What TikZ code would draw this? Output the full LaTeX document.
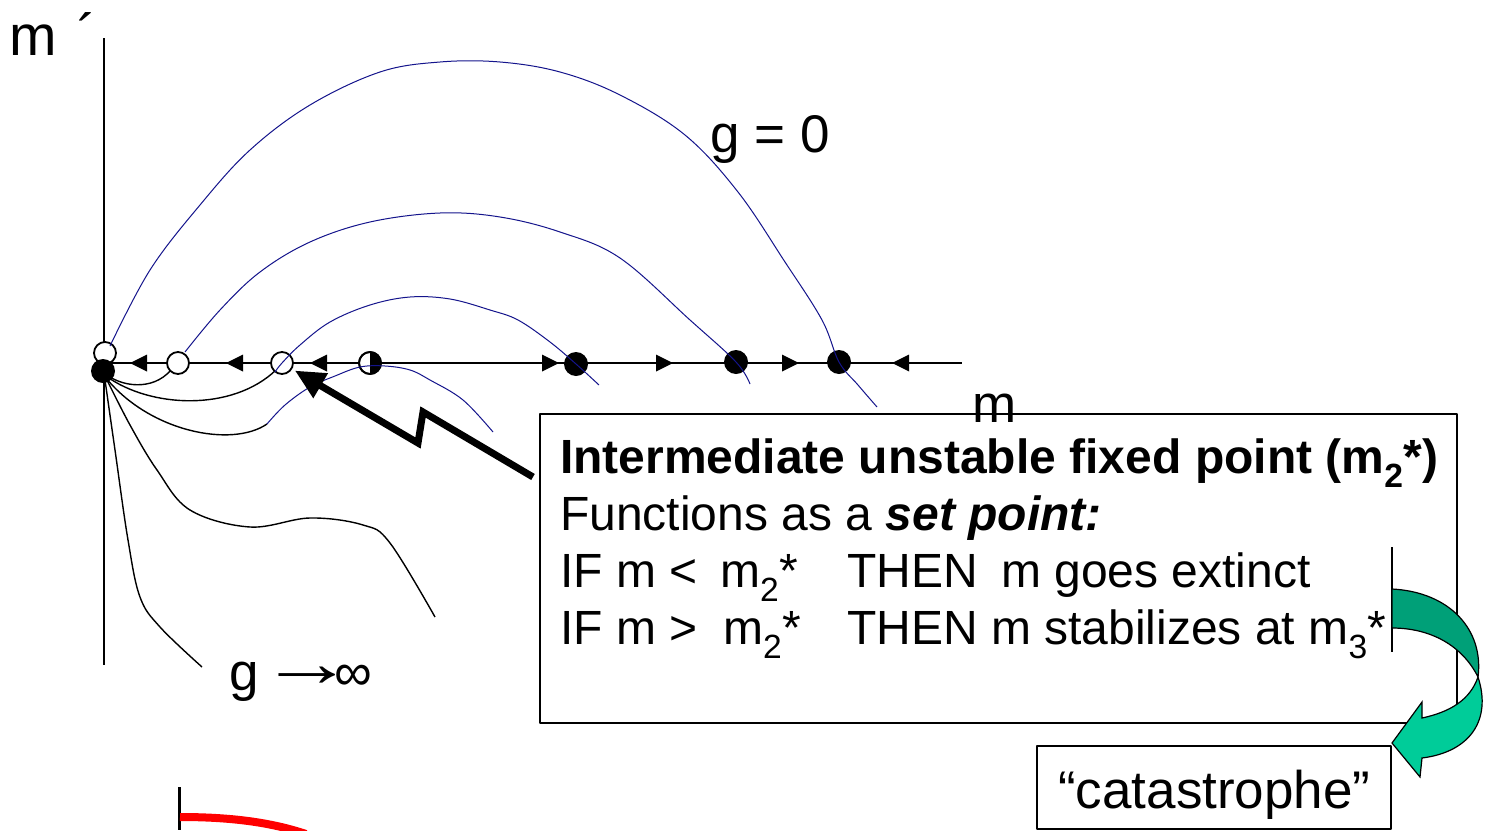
\documentclass[tikz,border=0pt]{standalone}
\usepackage{fontspec}
\usepackage{graphicx}
\setmainfont{Liberation Sans}
\usetikzlibrary{arrows.meta}
\definecolor{curveblue}{RGB}{20,20,140}
\definecolor{darkgreen}{RGB}{0,160,120}
\definecolor{lightgreen}{RGB}{0,204,153}
\newcommand\trileft[1]{\fill (#1,363) -- ++(17,-8.5) -- ++(0,17) -- cycle;}
\newcommand\triright[1]{\fill (#1,363) -- ++(-17,-8.5) -- ++(0,17) -- cycle;}
\begin{document}
\begin{tikzpicture}[x=1pt,y=-1pt,line join=round]
\tikzset{
 axisline/.style={line width=1.8pt},
 flowcurve/.style={line width=1.4pt},
 bluecurve/.style={line width=1pt, draw=curveblue},
 openpt/.style={circle, draw, line width=1.8pt, fill=white, minimum size=22pt, inner sep=0},
 fullpt/.style={circle, fill=black, minimum size=24pt, inner sep=0},
 lbl/.style={font=\fontsize{53}{60}\selectfont, inner sep=0, anchor=base west},
 boxtxt/.style={font=\fontsize{48}{57}\selectfont, inner sep=0, anchor=base west},
 framebox/.style={draw, line width=1.5pt, rectangle, inner sep=0, anchor=north west},
}
\useasboundingbox[fill=white] (0,0) rectangle (1491,830);

% axes
\coordinate (ytop) at (104,38);
\coordinate (ybot) at (104,665);
\coordinate (orig) at (104,363);
\coordinate (xend) at (962,363);
\draw[axisline] (ytop) -- (ybot);
\draw[axisline] (orig) -- (xend);

% labels
\node[lbl, font=\fontsize{57}{60}\selectfont] (mprime) at (9,55) {m\hspace{21pt}\raisebox{1pt}{´}};
\node[lbl] (gzero) at (710,152) {g = 0};
\node[lbl] (mlab) at (972,422) {m};
\node[lbl] (ginf) at (229,690) {g\hspace{1pt}\raisebox{4pt}{\scalebox{1.8}[1.3]{→}}\hspace{-21pt}∞};

% black flow curves from the stable origin
\draw[flowcurve] (106,374) .. controls (120,386) and (152,392) .. (171,370);
\draw[flowcurve] (106,376) .. controls (150,408) and (232,412) .. (276,370);
\draw[flowcurve] (106,378) .. controls (150,432) and (232,448) .. (267,424);
\draw[flowcurve] plot[smooth, tension=0.6] coordinates {(106,378) (130,425) (157,470) (190,510) (250,527) (310,518) (363,525) (390,543) (435,617)};
\draw[flowcurve] plot[smooth, tension=0.6] coordinates {(105,380) (115,450) (128,540) (140,597) (160,627) (202,667)};

% fixed points
\node[openpt] (m0open) at (105,353) {};
\node[fullpt] (m0) at (103,371) {};
\node[openpt] (m1) at (178,363) {};
\node[openpt] (m2) at (282,363) {};
\node[openpt] (mh) at (370,363) {};
\fill (370,352) arc[start angle=-90, end angle=90, radius=11] -- cycle;
\draw[line width=1.8pt] (mh.center) circle[radius=11];
\node[fullpt] (s1) at (576,364) {};
\node[fullpt] (s2) at (736,362) {};
\node[fullpt] (s3) at (839,362) {};

% axis arrowheads
\trileft{130}
\trileft{226}
\trileft{310}
\trileft{892}
\triright{559}
\triright{673}
\triright{799}

% blue curves
\draw[bluecurve] plot[smooth, tension=0.6] coordinates {(110,346) (150,270) (200,205) (250,150) (310,105) (380,72) (440,62) (500,62) (560,72) (620,95) (685,135) (738,192) (785,262) (822,320) (839,362) (858,385) (877,407)};
\draw[bluecurve] plot[smooth, tension=0.6] coordinates {(185,352) (220,310) (260,272) (310,242) (370,222) (440,213) (500,217) (560,232) (620,258) (690,320) (736,362) (750,384)};
\draw[bluecurve] plot[smooth, tension=0.6] coordinates {(275,372) (282,363) (300,345) (330,322) (370,305) (410,297) (450,299) (490,310) (518,320) (550,342) (576,364) (599,385)};
\draw[bluecurve] plot[smooth, tension=0.6] coordinates {(267,424) (285,405) (310,387) (335,376) (360,367) (385,366) (410,370) (430,380) (463,400) (493,432)};

% lightning arrow to the unstable point
\coordinate (lstart) at (533,477);
\coordinate (zig1) at (423,412);
\coordinate (zig2) at (418,443);
\draw[line width=7pt, line join=miter, shorten >=3pt, -{Triangle[length=30pt,width=27pt]}] (lstart) -- (zig1) -- (zig2) -- (m2);

% information box
\node[framebox, minimum width=917pt, minimum height=309pt] (infobox) at (539,413) {};
\node[boxtxt] (t1) at (560,473) {\textbf{Intermediate unstable fixed point (m\textsubscript{2}*)}};
\node[boxtxt] (t2) at (560,530) {Functions as a \textbf{\textit{set point:}}};
\node[boxtxt] (t3a) at (560,587) {IF m <};
\node[boxtxt] (t3b) at (720,587) {m\textsubscript{2}*};
\node[boxtxt] (t3c) at (847,587) {THEN};
\node[boxtxt] (t3d) at (1001,587) {m goes extinct};
\node[boxtxt] (t4a) at (560,644) {IF m >};
\node[boxtxt] (t4b) at (723,644) {m\textsubscript{2}*};
\node[boxtxt] (t4c) at (847,644) {THEN m stabilizes at m\textsubscript{3}*};

% stray vertical line
\coordinate (vl1) at (1392,547);
\coordinate (vl2) at (1392,652);
\draw[line width=1.2pt] (vl1) -- (vl2);

% green curved arrow
\fill[darkgreen, draw=black, line width=1.2pt] (1392,589) .. controls (1450,592) and (1484,630) .. (1478,677) .. controls (1462,645) and (1430,628) .. (1392,628) -- cycle;
\fill[lightgreen, draw=black, line width=1.2pt, line join=miter] (1478,677) .. controls (1492,720) and (1470,752) .. (1422,758) -- (1420,777) -- (1392,743) -- (1422,702) -- (1422,718) .. controls (1450,712) and (1470,700) .. (1478,677) -- cycle;

% catastrophe box
\node[framebox, minimum width=354pt, minimum height=83pt] (catbox) at (1036,745) {};
\node[lbl] (cattext) at (1058,808) {“catastrophe”};

% red curve at the bottom
\coordinate (bl1) at (179,787);
\coordinate (bl2) at (179,830);
\draw[line width=3pt] (bl1) -- (bl2);
\coordinate (r1) at (180,817);
\coordinate (r2) at (306,834);
\draw[red, line width=8pt] (r1) .. controls (230,817) and (270,822) .. (r2);
\end{tikzpicture}
\end{document}
